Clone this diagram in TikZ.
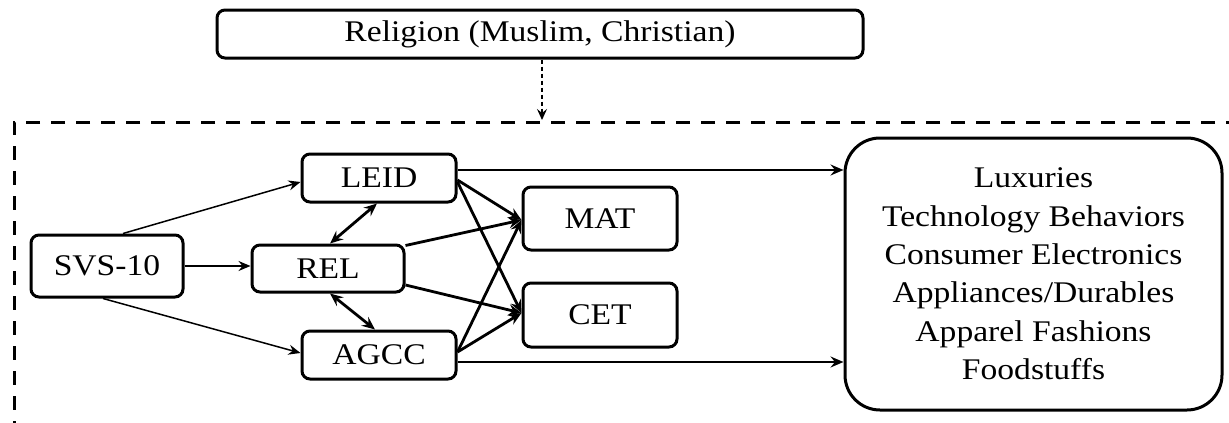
\documentclass[tikz,border=0pt]{standalone}
\usepackage{fontspec}
\setmainfont{Liberation Serif}[FakeStretch=1.12]
\usetikzlibrary{arrows.meta}
\begin{document}
\begin{tikzpicture}[x=1pt,y=-1pt,
  box/.style={draw, line width=3pt, rounded corners=8pt, inner sep=0pt,
    font=\fontsize{30}{38.4}\selectfont, align=center},
  thinarrow/.style={line width=1.5pt, -{Stealth[length=12pt,width=10pt,inset=4pt]}},
  thickarrow/.style={line width=2.8pt, -{Stealth[length=13pt,width=11pt,inset=4.5pt]}},
  dblarrow/.style={line width=2.8pt, {Stealth[length=13pt,width=11pt,inset=4.5pt]}-{Stealth[length=13pt,width=11pt,inset=4.5pt]}},
  dasharrow/.style={line width=1.5pt, dash pattern=on 4pt off 3pt, -{Stealth[length=11pt,width=10pt,inset=4pt]}},
  frame/.style={line width=3pt, dash pattern=on 14pt off 11pt}
]
\useasboundingbox (0,0) rectangle (1229,423);
\fill[white] (0,0) rectangle (1229,423);

% nodes
\node[box, minimum width=646pt, minimum height=48pt] (religion) at (540,34) {Religion (Muslim, Christian)};
\node[box, minimum width=152pt, minimum height=62pt] (svs) at (107,266) {SVS-10};
\node[box, minimum width=154pt, minimum height=48pt] (leid) at (379,178) {LEID};
\node[box, minimum width=152pt, minimum height=47pt] (rel) at (328,268.5) {REL};
\node[box, minimum width=154pt, minimum height=48pt] (agcc) at (379,355) {AGCC};
\node[box, minimum width=154pt, minimum height=63pt] (mat) at (600,218.5) {MAT};
\node[box, minimum width=154pt, minimum height=64pt] (cet) at (600,315) {CET};
\node[box, rounded corners=35pt, minimum width=377pt, minimum height=272pt] (out) at (1033.5,274)
  {Luxuries\\Technology Behaviors\\Consumer Electronics\\Appliances/Durables\\Apparel Fashions\\Foodstuffs};

% dashed frame (open to right and bottom)
\draw[frame] (1240,122) -- (14,122) -- (14,440);
\coordinate (frametop) at (542,120);
\draw[dasharrow] ([xshift=2pt]religion.south) -- (frametop);

% SVS-10 arrows
\draw[thinarrow] ([xshift=16pt]svs.north) -- ([yshift=-4pt]leid.west);
\draw[thinarrow] (svs.east) -- (svs.east -| rel.west);
\draw[thinarrow] ([xshift=-4pt]svs.south) -- ([yshift=2pt]agcc.west);

% correlations
\draw[dblarrow] ([xshift=-2pt]leid.south) -- ([xshift=2pt]rel.north);
\draw[dblarrow] ([xshift=2pt]rel.south) -- ([xshift=-4pt]agcc.north);

% direct paths to outcomes
\draw[thickarrow] ([yshift=8pt]leid.east) -- ([yshift=8pt]leid.east -| out.west);
\draw[thickarrow] ([yshift=-7pt]agcc.east) -- ([yshift=-7pt]agcc.east -| out.west);

% to mediators
\draw[thickarrow] ([yshift=-2pt]leid.east) -- ([yshift=-1.5pt]mat.west);
\draw[thickarrow] ([yshift=-4pt]leid.east) -- ([yshift=2pt]cet.west);
\draw[thickarrow] ([yshift=-2pt]rel.north east) -- ([yshift=-1.5pt]mat.west);
\draw[thickarrow] ([yshift=-16.5pt]rel.east) -- ([yshift=2pt]cet.west);
\draw[thickarrow] ([yshift=3pt]agcc.east) -- ([yshift=-1.5pt]mat.west);
\draw[thickarrow] ([yshift=3pt]agcc.east) -- ([yshift=2pt]cet.west);
\end{tikzpicture}
\end{document}
